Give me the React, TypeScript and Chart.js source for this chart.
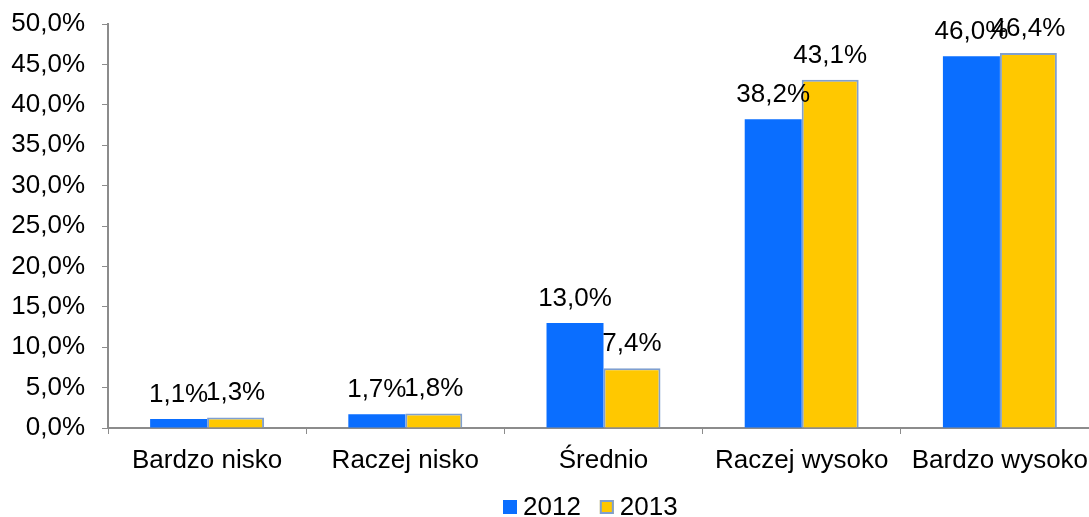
import React, { useEffect, useRef } from "react";
import { Chart, registerables } from "chart.js";

Chart.register(...registerables);

const categories = ["Bardzo nisko", "Raczej nisko", "Średnio", "Raczej wysoko", "Bardzo wysoko"];
const series2012 = [1.1, 1.7, 13.0, 38.2, 46.0];
const series2013 = [1.3, 1.8, 7.4, 43.1, 46.4];
const seriesNames = ["2012", "2013"];

const FONT = "'Liberation Sans', Arial, sans-serif";
const FS = 26;
const fmt = (v: number) => v.toFixed(1).replace(".", ",") + "%";

const labelPlugin = {
  id: "barLabels",
  afterDatasetsDraw(chart: any) {
    const ctx = chart.ctx;
    ctx.save();
    ctx.font = `${FS}px ${FONT}`;
    ctx.fillStyle = "#000";
    ctx.textAlign = "center";
    ctx.textBaseline = "alphabetic";
    chart.data.datasets.forEach((ds: any, i: number) => {
      const meta = chart.getDatasetMeta(i);
      meta.data.forEach((bar: any, j: number) => {
        ctx.fillText(fmt(ds.data[j]), bar.x, bar.y - 17);
      });
    });
    ctx.restore();
  },
};

const legendPlugin = {
  id: "customLegend",
  afterDraw(chart: any) {
    const ctx = chart.ctx;
    ctx.save();
    ctx.font = `${FS}px ${FONT}`;
    ctx.textBaseline = "middle";
    ctx.textAlign = "left";
    const cy = 507;
    const items = chart.data.datasets.map((ds: any) => ({
      text: ds.label,
      fill: ds.backgroundColor,
      border: ds.borderWidth ? ds.borderColor : null,
    }));
    const box = 14;
    const gap = 6;
    const itemGap = 19;
    const widths = items.map((it: any) => box + gap + ctx.measureText(it.text).width);
    let x = 503;
    items.forEach((it: any, i: number) => {
      ctx.fillStyle = it.fill;
      ctx.fillRect(x, cy - box / 2, box, box);
      if (it.border) {
        ctx.strokeStyle = it.border;
        ctx.lineWidth = 2;
        ctx.strokeRect(x + 1, cy - box / 2 + 1, box - 2, box - 2);
      }
      ctx.fillStyle = "#000";
      ctx.fillText(it.text, x + box + gap, cy + 1);
      x += widths[i] + itemGap;
    });
    ctx.restore();
  },
};

export default function App() {
  const ref = useRef<HTMLCanvasElement>(null);
  useEffect(() => {
    const chart = new Chart(ref.current!, {
      type: "bar",
      data: {
        labels: categories,
        datasets: [
          {
            label: seriesNames[0],
            data: series2012,
            backgroundColor: "#0A6EFF",
            borderWidth: 0,
            categoryPercentage: 0.575,
            barPercentage: 1,
          },
          {
            label: seriesNames[1],
            data: series2013,
            backgroundColor: "#FFC800",
            borderColor: "#7F9FD0",
            borderWidth: 2,
            categoryPercentage: 0.575,
            barPercentage: 1,
          },
        ],
      },
      options: {
        animation: false,
        responsive: false,
        layout: { padding: { top: 0, right: 1, left: 0, bottom: 0 } },
        plugins: {
          legend: { display: false },
          tooltip: { enabled: false },
        },
        scales: {
          x: {
            offset: true,
            grid: {
              offset: true,
              drawOnChartArea: false,
              drawTicks: true,
              tickLength: 6,
              color: "#8c8c8c",
            },
            border: { color: "#8c8c8c", width: 2 },
            ticks: { font: { family: FONT, size: FS }, color: "#000", padding: 11, maxRotation: 0 },
            afterFit: (s: any) => {
              s.height = 89;
            },
          },
          y: {
            min: 0,
            max: 50,
            ticks: {
              stepSize: 5,
              font: { family: FONT, size: FS },
              color: "#000",
              padding: 17,
              callback: (v: any) => fmt(Number(v)),
            },
            grid: {
              drawOnChartArea: false,
              drawTicks: true,
              tickLength: 6,
              color: "#8c8c8c",
            },
            border: { color: "#8c8c8c", width: 2 },
            afterFit: (s: any) => {
              s.width = 108;
              s.paddingTop = 24;
            },
          },
        },
      },
      plugins: [labelPlugin, legendPlugin],
    });
    return () => chart.destroy();
  }, []);
  return (
    <div style={{ position: "fixed", left: 0, top: 0, width: 1089, height: 517, overflow: "hidden" }}>
      <canvas ref={ref} width={1100} height={517} style={{ display: "block" }} />
    </div>
  );
}
